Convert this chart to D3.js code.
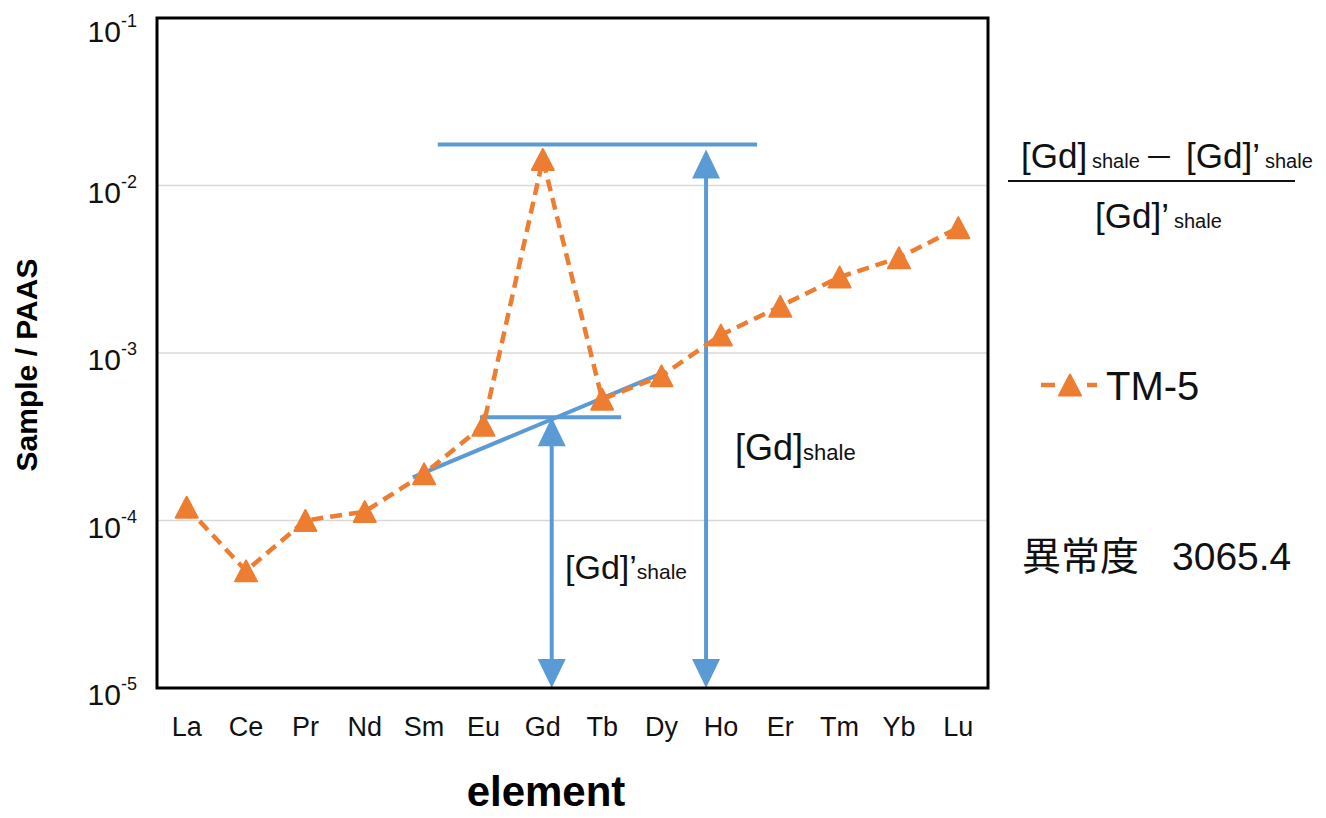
<!DOCTYPE html>
<html>
<head>
<meta charset="utf-8">
<script src="https://cdn.jsdelivr.net/npm/d3@7"></script>
<style>
  body { margin: 0; background: #fff; }
  text { font-family: "Liberation Sans", Arial, sans-serif; }
</style>
</head>
<body>
<div id="chart"></div>
<script>
// data
var elements = ["La","Ce","Pr","Nd","Sm","Eu","Gd","Tb","Dy","Ho","Er","Tm","Yb","Lu"];
var tm5 = [1.2e-4, 5.0e-5, 1.0e-4, 1.13e-4, 1.9e-4, 3.7e-4, 1.43e-2, 5.3e-4, 7.3e-4, 1.28e-3, 1.9e-3, 2.84e-3, 3.7e-3, 5.6e-3];
var yTicks = [1e-5, 1e-4, 1e-3, 1e-2, 1e-1];
var yTickExp = ["-5", "-4", "-3", "-2", "-1"];

// annotation guides, in category index / value units
var gdTop = 0.0176;          // [Gd]shale level
var gdInterp = 4.14e-4;      // [Gd]'shale level
var topLineX = [4.23, 9.61];
var midLineX = [4.94, 7.32];
var trendX = [3.81, 7.97];
var trendY = [1.81e-4, 7.48e-4];
var arrowX = [6.15, 8.75];
var arrowTop = [4.14e-4, 0.0164];

var anomaly = "3065.4";

var margin = {top: 18, right: 338, bottom: 130, left: 157},
    width = 1326 - margin.left - margin.right,
    height = 818 - margin.top - margin.bottom;

var svg = d3.select("#chart").append("svg")
    .attr("width", 1326)
    .attr("height", 818);
var g = svg.append("g")
    .attr("transform", "translate(" + margin.left + "," + margin.top + ")");

var x = d3.scaleBand().domain(elements).range([0, width]);
var xi = function(i) { return x.bandwidth() * (i + 0.5); };
var y = d3.scaleLog().domain([1e-5, 1e-1]).range([height, 0]);

var orange = "#ed7d31", blue = "#5b9bd5";

// gridlines
g.selectAll(".grid")
  .data([1e-4, 1e-3, 1e-2])
  .enter().append("line")
    .attr("x1", 0).attr("x2", width)
    .attr("y1", function(d) { return y(d); })
    .attr("y2", function(d) { return y(d); })
    .attr("stroke", "#d9d9d9")
    .attr("stroke-width", 1.5);

// y axis labels (10 with superscript exponent)
var yAxis = g.append("g")
  .call(d3.axisLeft(y).tickValues(yTicks).tickSize(0).tickPadding(20).tickFormat(function() { return ""; }));
yAxis.select(".domain").remove();
yAxis.selectAll(".tick text")
  .attr("font-size", 30)
  .attr("fill", "#111")
  .attr("dy", function(d) { return d === 1e-1 ? "0.78em" : "0.56em"; })
  .each(function(d, i) {
    var t = d3.select(this);
    t.append("tspan").text("10");
    t.append("tspan").text(yTickExp[i]).attr("font-size", 18).attr("dy", "-0.85em");
  });

// x axis labels
var xAxis = g.append("g")
  .attr("transform", "translate(0," + height + ")")
  .call(d3.axisBottom(x).tickSize(0).tickPadding(29));
xAxis.select(".domain").remove();
xAxis.selectAll(".tick text")
  .attr("font-size", 27)
  .attr("fill", "#111");

// axis titles
svg.append("text")
  .attr("transform", "translate(37,365) rotate(-90)")
  .attr("text-anchor", "middle")
  .attr("font-size", 30)
  .attr("font-weight", "bold")
  .text("Sample / PAAS");

svg.append("text")
  .attr("x", 546)
  .attr("y", 806)
  .attr("text-anchor", "middle")
  .attr("font-size", 42)
  .attr("font-weight", "bold")
  .text("element");

// blue guide lines
var guides = [
  [[topLineX[0], gdTop], [topLineX[1], gdTop]],
  [[midLineX[0], gdInterp], [midLineX[1], gdInterp]],
  [[trendX[0], trendY[0]], [trendX[1], trendY[1]]]
];
g.selectAll(".guide")
  .data(guides)
  .enter().append("line")
    .attr("x1", function(d) { return xi(d[0][0]); })
    .attr("y1", function(d) { return y(d[0][1]); })
    .attr("x2", function(d) { return xi(d[1][0]); })
    .attr("y2", function(d) { return y(d[1][1]); })
    .attr("stroke", blue)
    .attr("stroke-width", 4);

// double-headed arrows
var head = 29, headW = 14;
arrowX.forEach(function(ax, i) {
  var cx = xi(ax), y0 = y(arrowTop[i]), y1 = y(1e-5);
  g.append("line")
    .attr("x1", cx).attr("x2", cx)
    .attr("y1", y0 + head - 2).attr("y2", y1 - head + 2)
    .attr("stroke", blue).attr("stroke-width", 4);
  g.append("path")
    .attr("d", "M" + cx + "," + y0 + "L" + (cx - headW) + "," + (y0 + head) + "L" + (cx + headW) + "," + (y0 + head) + "Z")
    .attr("fill", blue);
  g.append("path")
    .attr("d", "M" + cx + "," + y1 + "L" + (cx - headW) + "," + (y1 - head) + "L" + (cx + headW) + "," + (y1 - head) + "Z")
    .attr("fill", blue);
});

// TM-5 dashed series
var line = d3.line()
  .x(function(d, i) { return xi(i); })
  .y(function(d) { return y(d); });

g.append("path")
  .datum(tm5)
  .attr("d", line)
  .attr("fill", "none")
  .attr("stroke", orange)
  .attr("stroke-width", 4.5)
  .attr("stroke-dasharray", "12,7");

// excel-like triangle marker, centred on its box
var boxTriangle = {
  draw: function(ctx, size) {
    var w = Math.sqrt(size), h = w * 0.95;
    ctx.moveTo(0, -h / 2);
    ctx.lineTo(w / 2, h / 2);
    ctx.lineTo(-w / 2, h / 2);
    ctx.closePath();
  }
};
var tri = d3.symbol().type(boxTriangle).size(484);
g.selectAll(".pt")
  .data(tm5)
  .enter().append("path")
    .attr("d", tri)
    .attr("transform", function(d, i) { return "translate(" + xi(i) + "," + y(d) + ")"; })
    .attr("fill", orange)
    .attr("stroke", orange)
    .attr("stroke-width", 2)
    .attr("stroke-linejoin", "round");

// annotation labels inside plot
function gdLabel(parent, px, py, prime, big, small) {
  var t = parent.append("text").attr("x", px).attr("y", py).attr("font-size", big).attr("fill", "#111");
  t.append("tspan").text(prime ? "[Gd]’" : "[Gd]");
  t.append("tspan").text("shale").attr("font-size", small);
  return t;
}
gdLabel(g, 408, 561, true, 34, 21);
gdLabel(g, 578, 442, false, 36, 22);

// frame
g.append("rect")
  .attr("width", width).attr("height", height)
  .attr("fill", "none")
  .attr("stroke", "#000")
  .attr("stroke-width", 3);

// right side: formula
var r = svg.append("g").attr("fill", "#111");
var num = r.append("text").attr("y", 168).attr("font-size", 35);
num.append("tspan").attr("x", 1021).text("[Gd]");
num.append("tspan").attr("x", 1092).attr("font-size", 20).text("shale");
num.append("tspan").attr("x", 1144).attr("font-size", 30)
  .attr("font-family", "'Noto Sans CJK JP', sans-serif").text("－");
num.append("tspan").attr("x", 1186).text("[Gd]’");
num.append("tspan").attr("x", 1265).attr("font-size", 20).text("shale");
r.append("line")
  .attr("x1", 1008).attr("x2", 1295)
  .attr("y1", 181).attr("y2", 181)
  .attr("stroke", "#111").attr("stroke-width", 2);
var den = r.append("text").attr("y", 228).attr("font-size", 35);
den.append("tspan").attr("x", 1095).text("[Gd]’");
den.append("tspan").attr("x", 1174).attr("font-size", 20).text("shale");

// legend
var lg = svg.append("g").attr("transform", "translate(1041,385)");
lg.append("line").attr("x1", 0).attr("x2", 14).attr("stroke", orange).attr("stroke-width", 4.5);
lg.append("line").attr("x1", 46).attr("x2", 56).attr("stroke", orange).attr("stroke-width", 4.5);
lg.append("path")
  .attr("d", tri)
  .attr("transform", "translate(29,0)")
  .attr("fill", orange).attr("stroke", orange).attr("stroke-width", 2).attr("stroke-linejoin", "round");
lg.append("text")
  .attr("x", 65).attr("y", 15)
  .attr("font-size", 40)
  .attr("fill", "#111")
  .text("TM-5");

// anomaly value
var an = svg.append("text")
  .attr("y", 570)
  .attr("font-size", 39)
  .attr("fill", "#111");
an.append("tspan")
  .attr("x", 1022)
  .attr("font-family", "'Noto Sans CJK JP', 'Liberation Sans', sans-serif")
  .text("異常度");
an.append("tspan")
  .attr("x", 1172)
  .text(anomaly);
</script>
</body>
</html>
